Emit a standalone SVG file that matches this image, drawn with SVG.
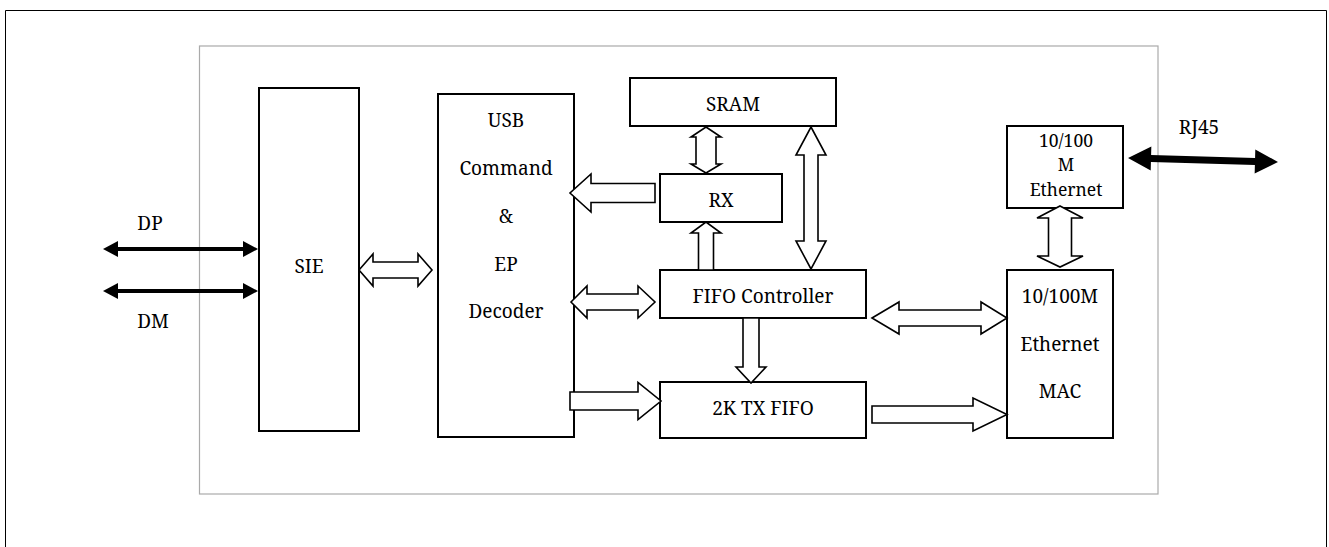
<svg xmlns="http://www.w3.org/2000/svg" width="1329" height="547" viewBox="0 0 1329 547">
<style>
.box{fill:#fff;stroke:#000;stroke-width:2}
.ha{fill:#fff;stroke:#000;stroke-width:1.6;stroke-linejoin:miter}
.sa{fill:#000;stroke:none}
text{font-family:'Noto Serif','Liberation Serif','DejaVu Serif',serif;font-size:19px;fill:#000;text-anchor:middle}
.sm{font-size:17.5px}
</style>
<rect width="1329" height="547" fill="#fff"/>
<path d="M5.5,547 V10.5 H1326.5 V547" fill="none" stroke="#000" stroke-width="1"/>
<rect x="199.5" y="46" width="958.5" height="448" fill="none" stroke="#aaa" stroke-width="1.2"/>

<g id="sie"><rect class="box" x="259" y="88" width="100" height="343"/><text x="309" y="273">SIE</text></g>
<g id="usb"><rect class="box" x="438" y="94" width="136" height="343"/>
  <text x="506" y="127">USB</text><text x="506" y="175">Command</text><text x="506" y="223">&amp;</text><text x="506" y="271">EP</text><text x="506" y="318">Decoder</text></g>
<g id="sram"><rect class="box" x="630" y="78" width="206" height="48"/><text x="733" y="111">SRAM</text></g>
<g id="rx"><rect class="box" x="660" y="174" width="122" height="48"/><text x="721" y="207">RX</text></g>
<g id="fifoctrl"><rect class="box" x="660" y="270" width="206" height="48"/><text x="763" y="303">FIFO Controller</text></g>
<g id="txfifo"><rect class="box" x="660" y="382" width="206" height="56"/><text x="763" y="415">2K TX FIFO</text></g>
<g id="phy"><rect class="box" x="1007" y="126" width="116" height="82"/>
  <text class="sm" x="1066" y="147">10/100</text><text class="sm" x="1066" y="171">M</text><text class="sm" x="1066" y="196">Ethernet</text></g>
<g id="mac"><rect class="box" x="1007" y="270" width="106" height="168"/>
  <text x="1060" y="303">10/100M</text><text x="1060" y="351">Ethernet</text><text x="1060" y="398">MAC</text></g>
<g id="labels">
  <text x="150" y="230">DP</text>
  <text x="153" y="328">DM</text>
  <text x="1199" y="134">RJ45</text>
</g>

<g id="connectors">
  <polygon class="sa" points="103,249 118,241 118,247 243,247 243,241 258,249 243,257 243,251 118,251 118,257"/>
  <polygon class="sa" points="103,291 118,283 118,289 243,289 243,283 258,291 243,299 243,293 118,293 118,299"/>
  <polygon class="sa" transform="translate(1203,160) rotate(1.53)" points="-75,0 -52,-12 -52,-3.5 52,-3.5 52,-12 75,0 52,12 52,3.5 -52,3.5 -52,12"/>
  <polygon class="ha" points="359,270 373,254 373,262 418,262 418,254 432,270 418,286 418,278 373,278 373,286"/>
  <polygon class="ha" points="571,302 587,286 587,294 638,294 638,286 655,302 638,318 638,310 587,310 587,318"/>
  <polygon class="ha" points="872,318 899,302 899,310 981,310 981,302 1007,318 981,334 981,326 899,326 899,334"/>
  <polygon class="ha" points="706,127 721,137 716,137 716,164 721,164 706,173 691,164 696,164 696,137 691,137"/>
  <polygon class="ha" points="811,127 826,155 818,155 818,241 826,241 811,269 796,241 804,241 804,155 796,155"/>
  <polygon class="ha" points="1060,206 1083,218 1071.5,218 1071.5,256 1083,256 1060,267 1037,256 1048.5,256 1048.5,218 1037,218"/>
  <polygon class="ha" points="655,183.5 591,183.5 591,174 570,193 591,212 591,202.5 655,202.5"/>
  <polygon class="ha" points="698.5,270 698.5,233 691,233 706,222 721,233 713.5,233 713.5,270"/>
  <polygon class="ha" points="743,318 743,367 736,367 751,383 766,367 759,367 759,318"/>
  <polygon class="ha" points="570,392 638,392 638,382.5 661,401 638,419.5 638,410 570,410"/>
  <polygon class="ha" points="872,406 973,406 973,398 1007,414.5 973,431 973,423 872,423"/>
</g>
</svg>
